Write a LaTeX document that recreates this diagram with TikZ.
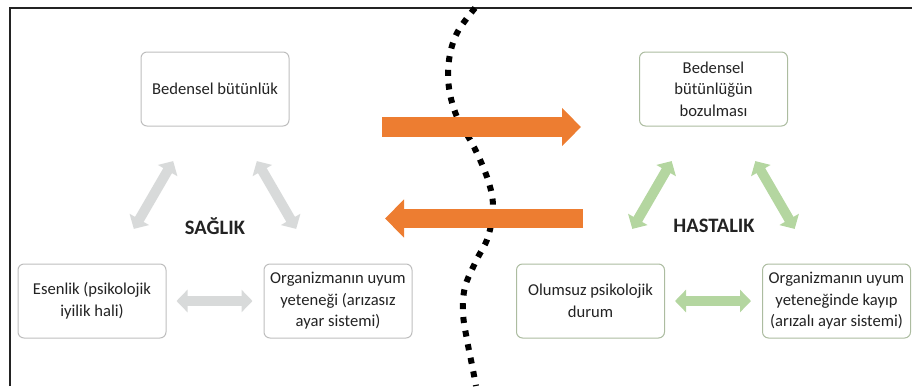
\documentclass[tikz,border=0pt]{standalone}
\usepackage{fontspec}
\setmainfont{Carlito}
\usetikzlibrary{arrows.meta}
\definecolor{boxgray}{RGB}{190,190,190}
\definecolor{boxgreen}{RGB}{172,188,160}
\definecolor{linkgray}{RGB}{216,218,218}
\definecolor{linkgreen}{RGB}{180,214,160}
\definecolor{shiftorange}{RGB}{237,125,49}
\definecolor{txtgray}{RGB}{35,35,35}
\tikzset{
    state diagram/.style = {x=1pt, y=-1pt},
    block/.style         = {draw=boxgray, line width=1pt, rounded corners=6pt,
                            fill=white, align=center, text=txtgray,
                            minimum width=148pt, minimum height=74pt,
                            font=\fontsize{16.6}{21.5}\selectfont},
    sick block/.style    = {block, draw=boxgreen},
    title/.style         = {text=txtgray, font=\bfseries\fontsize{20.5}{24}\selectfont},
    link/.style          = {line width=10pt,
                            {Triangle[width=22pt,length=11pt]}-{Triangle[width=22pt,length=11pt]}},
    diag link/.style     = {link, shorten <=40pt, shorten >=40pt},
    flat link/.style     = {link, shorten <=10pt, shorten >=11pt},
    transition/.style    = {draw=shiftorange, line width=19.5pt,
                            -{Triangle[width=37pt,length=19pt]}},
    border/.style        = {draw=txtgray, line width=1.3pt},
    fence/.style         = {line width=6pt, dash pattern=on 6pt off 7.8pt}
}
\begin{document}
\begin{tikzpicture}[state diagram]
\useasboundingbox (0,0) rectangle (912,386);

% ================= Frame =================
\draw[border] (10,386) -- (10,8) -- (912,8);

% ================= Health side =================
\node[block] (beden)   at (215,89)  {Bedensel bütünlük};
\node[block] (esenlik) at (92,301)  {Esenlik (psikolojik\\iyilik hali)};
\node[block] (uyum)    at (338,301) {Organizmanın uyum\\yeteneği (arızasız\\ayar sistemi)};
\node[title] (saglik)  at (215,226) {SAĞLIK};

\draw[diag link, linkgray] (esenlik) -- (beden);
\draw[diag link, linkgray] (beden) -- (uyum);
\draw[flat link, linkgray] (esenlik) -- (uyum);

% ================= Illness side =================
\node[sick block] (bozulma) at (713.5,89)  {Bedensel\\bütünlüğün\\bozulması};
\node[sick block] (olumsuz) at (590.5,301) {Olumsuz psikolojik\\durum};
\node[sick block] (kayip)   at (836.5,301) {Organizmanın uyum\\yeteneğinde kayıp\\(arızalı ayar sistemi)};
\node[title] (hastalik)     at (714,226)   {HASTALIK};

\draw[diag link, linkgreen] (olumsuz) -- (bozulma);
\draw[diag link, linkgreen] (bozulma) -- (kayip);
\draw[flat link, linkgreen] (olumsuz) -- (kayip);

% ================= Dividing line =================
\draw[fence] plot[smooth, tension=0.6] coordinates {
    (475,8) (457,33) (449,60) (449,88) (457,117) (474,147)
    (488,180) (493,207) (488,237) (476,261) (465,287)
    (463,313) (467,340) (472,365) (476,386)};

% ================= Transitions =================
\coordinate (fwd a)  at (382,127);
\coordinate (fwd b)  at (581,127);
\coordinate (back a) at (583,218.5);
\coordinate (back b) at (385,218.5);
\draw[transition] (fwd a) -- (fwd b);
\draw[transition] (back a) -- (back b);

\end{tikzpicture}
\end{document}
